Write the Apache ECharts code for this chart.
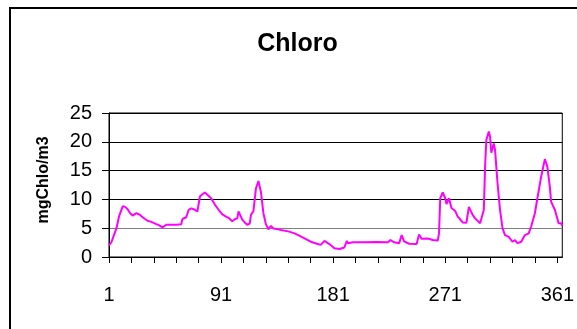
<!DOCTYPE html>
<html>
<head>
<meta charset="utf-8">
<title>Chloro</title>
<script src="https://cdn.jsdelivr.net/npm/echarts@6/dist/echarts.min.js"></script>
<style>
  html, body { margin: 0; padding: 0; background: #fff; }
  #chart { width: 577px; height: 329px; }
</style>
</head>
<body>
<div id="chart"></div>
<script>
// Day of year for each sample
const days = [1, 3, 7, 9, 12, 14, 16, 18, 20, 23, 26, 28, 32, 35, 39, 41, 44, 45, 47, 55,
  59, 60, 63, 65, 67, 69, 72, 74, 76, 78, 80, 83, 86, 89, 92, 95, 97, 100, 102, 104,
  105, 108, 110, 112, 114, 115, 117, 119, 121, 123, 125, 127, 129, 131, 133, 137, 139, 145, 150, 153,
  158, 163, 168, 171, 174, 178, 182, 186, 190, 192, 193, 197, 205, 216, 225, 227, 230, 234, 236, 238,
  242, 248, 250, 252, 257, 261, 265, 266, 267, 269, 271, 272, 274, 276, 279, 281, 283, 285, 288, 290,
  293, 295, 299, 300, 302, 303, 304, 306, 307, 308, 310, 311, 313, 315, 317, 319, 322, 323, 325, 327,
  329, 332, 335, 338, 340, 343, 345, 348, 351, 353, 355, 356, 359, 361, 362, 364, 365];

// Chlorophyll concentration (mgChlo/m3)
const chloro = [2.0, 2.6, 5.0, 7.0, 8.8, 8.7, 8.3, 7.6, 7.2, 7.6, 7.3, 6.9, 6.3, 6.1, 5.7, 5.55, 5.15, 5.4, 5.6, 5.6,
  5.7, 6.6, 6.9, 8.2, 8.45, 8.3, 7.9, 10.5, 10.9, 11.2, 10.8, 10.2, 9.1, 8.2, 7.4, 7.0, 6.8, 6.2, 6.55, 6.7,
  7.9, 6.5, 6.0, 5.6, 5.8, 7.3, 8.0, 11.9, 13.2, 11.3, 7.6, 5.7, 4.8, 5.4, 4.95, 4.8, 4.7, 4.45, 4.1, 3.8,
  3.25, 2.65, 2.3, 2.1, 2.8, 2.25, 1.5, 1.4, 1.65, 2.8, 2.4, 2.55, 2.55, 2.6, 2.55, 2.95, 2.55, 2.4, 3.8, 2.7,
  2.3, 2.25, 3.9, 3.15, 3.2, 2.95, 2.85, 4.1, 10.2, 11.2, 10.2, 9.2, 10.2, 8.5, 8.0, 7.0, 6.55, 6.0, 5.95, 8.7,
  7.3, 6.7, 5.85, 5.6, 8.2, 15.7, 20.3, 21.8, 20.9, 18.1, 19.7, 18.6, 12.8, 8.2, 5.0, 3.8, 3.5, 3.65, 2.65, 2.95,
  2.4, 2.65, 3.8, 4.1, 5.3, 7.6, 10.2, 13.9, 17.0, 15.7, 12.2, 9.6, 8.2, 6.7, 5.85, 5.85, 5.4];

// Axis ticks and labels
const xTicks = [1, 19, 37, 55, 73, 91, 109, 127, 145, 163, 181, 199, 217, 235, 253, 271, 289, 307, 325, 343, 361];
const xLabels = [1, 91, 181, 271, 361];
const yTicks = [0, 5, 10, 15, 20, 25];

const font = '"Liberation Sans", Arial, sans-serif';
const points = days.map((d, i) => [d, chloro[i]]);

const chart = echarts.init(document.getElementById('chart'), null, { renderer: 'canvas' });
chart.setOption({
  animation: false,
  backgroundColor: '#fff',
  graphic: [
    {
      type: 'rect',
      shape: { x: 10, y: 8, width: 640, height: 420 },
      style: { fill: 'none', stroke: '#000', lineWidth: 2 },
      silent: true, z: 10
    },
    {
      type: 'text',
      x: 297.5, y: 44.5,
      style: {
        text: 'Chloro', fill: '#000',
        font: 'bold 25px ' + font,
        textAlign: 'center', textVerticalAlign: 'middle'
      }
    },
    {
      type: 'text',
      x: 44, y: 180,
      rotation: Math.PI / 2,
      style: {
        text: 'mgChlo/m3', fill: '#000',
        font: 'bold 16px ' + font,
        textAlign: 'center', textVerticalAlign: 'middle'
      }
    }
  ],
  grid: {
    left: 109, top: 113, width: 459, height: 144,
    show: true, borderColor: '#000', borderWidth: 1, backgroundColor: 'transparent'
  },
  xAxis: {
    type: 'value',
    min: 1, max: 365,
    axisLine: { show: true, lineStyle: { color: '#000', width: 1 } },
    axisTick: { show: true, length: 6, customValues: xTicks, lineStyle: { color: '#000' } },
    axisLabel: {
      customValues: xLabels, margin: 28,
      color: '#000', fontSize: 20, fontFamily: font
    },
    splitLine: { show: false }
  },
  yAxis: {
    type: 'value',
    min: yTicks[0], max: yTicks[yTicks.length - 1], interval: 5,
    axisLine: { show: true, lineStyle: { color: '#000', width: 1 } },
    axisTick: { show: true, inside: false, length: 7, lineStyle: { color: '#000' } },
    axisLabel: {
      margin: 17, color: '#000', fontSize: 20, fontFamily: font,
      padding: [6, 0, 0, 0]
    },
    splitLine: {
      show: true,
      lineStyle: { color: ['#000', '#808080', '#000', '#000', '#000', '#000'], width: 1 }
    }
  },
  series: [{
    type: 'line',
    data: points,
    showSymbol: false,
    smooth: false,
    lineStyle: { color: '#FF00FF', width: 2 },
    z: 3
  }]
});
</script>
</body>
</html>
